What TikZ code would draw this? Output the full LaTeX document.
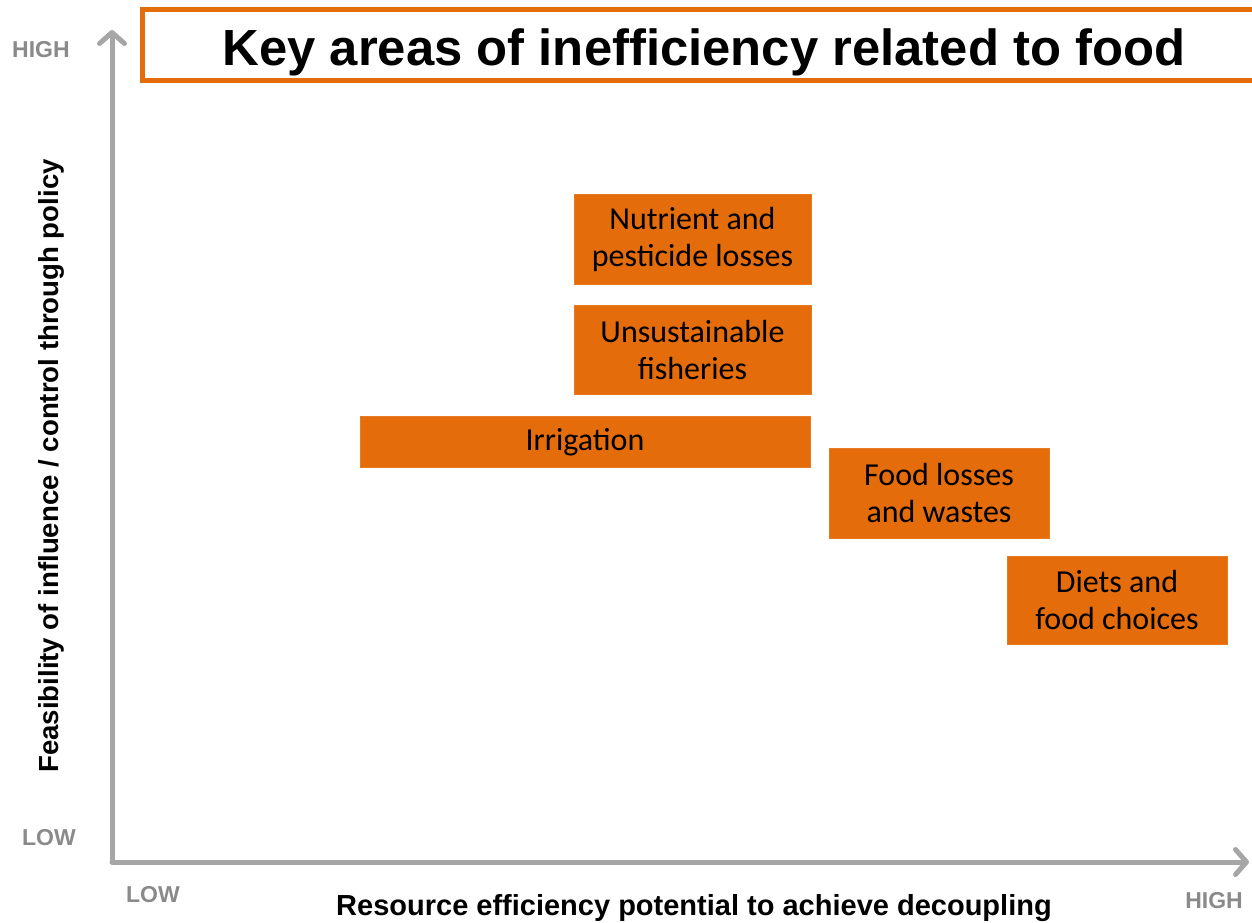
\documentclass[tikz,border=0pt]{standalone}
\usepackage{fontspec}
\setmainfont{Liberation Sans}
\newfontfamily\boxfont{Carlito}
\usetikzlibrary{arrows.meta}
\definecolor{foodorange}{HTML}{E46C0A}
\definecolor{axisgray}{HTML}{A6A6A6}
\definecolor{levelgray}{HTML}{8A8A8A}

\begin{document}
\begin{tikzpicture}[x=0.5pt,y=-0.5pt,
    area/.style={fill=foodorange, draw=foodorange!90!white, line width=0.4pt, align=center,
                 inner sep=0pt, text=black, font=\boxfont\fontsize{16}{18.5}\selectfont},
    axis/.style={draw=axisgray, line width=2.5pt, line cap=round,
                 -{Straight Barb[length=5.5pt,width=12.5pt,line cap=round,line join=round]}},
    level/.style={text=levelgray, font=\bfseries\fontsize{11.5}{12}\selectfont},
    axislabel/.style={font=\bfseries\fontsize{13.8}{15}\selectfont}]

    \useasboundingbox (0,0) rectangle (1252,922);

    \coordinate (origin) at (112,862);
    \coordinate (ytop) at (112,30);
    \coordinate (xend) at (1249,862);

    % title frame runs off the right edge
    \draw[foodorange, line width=2.5pt] (142.5,9.5) rectangle (1280,80.5);
    \node[font=\bfseries\fontsize{25.4}{28}\selectfont] (title) at (704,52) {Key areas of inefficiency related to food};

    \draw[axis] (origin) -- (ytop);
    \draw[axis] (origin) -- (xend);

    \node[level] (yhigh) at (41,50) {HIGH};
    \node[level] (ylow) at (49,838) {LOW};
    \node[level] (xlow) at (153,895) {LOW};
    \node[level] (xhigh) at (1214,901) {HIGH};

    \node[axislabel, rotate=90] (ylabel) at (51,466) {Feasibility of influence / control through policy};
    \node[axislabel, font=\bfseries\fontsize{14.5}{15}\selectfont] (xlabel) at (694,908) {Resource efficiency potential to achieve decoupling};

    \node[area, minimum width=118.5pt, minimum height=45pt] (nutrient) at (692.5,239) {Nutrient and\\pesticide losses};
    \node[area, minimum width=118.5pt, minimum height=44.5pt] (fisheries) at (692.5,349.5) {Unsustainable\\fisheries};
    \node[area, minimum width=225pt, minimum height=25.5pt] (irrigation) at (585,442) {Irrigation};
    \node[area, minimum width=110pt, minimum height=45pt] (losses) at (939,493) {Food losses\\and wastes};
    \node[area, minimum width=110pt, minimum height=44pt] (diets) at (1117,600) {Diets and\\food choices};

\end{tikzpicture}
\end{document}
